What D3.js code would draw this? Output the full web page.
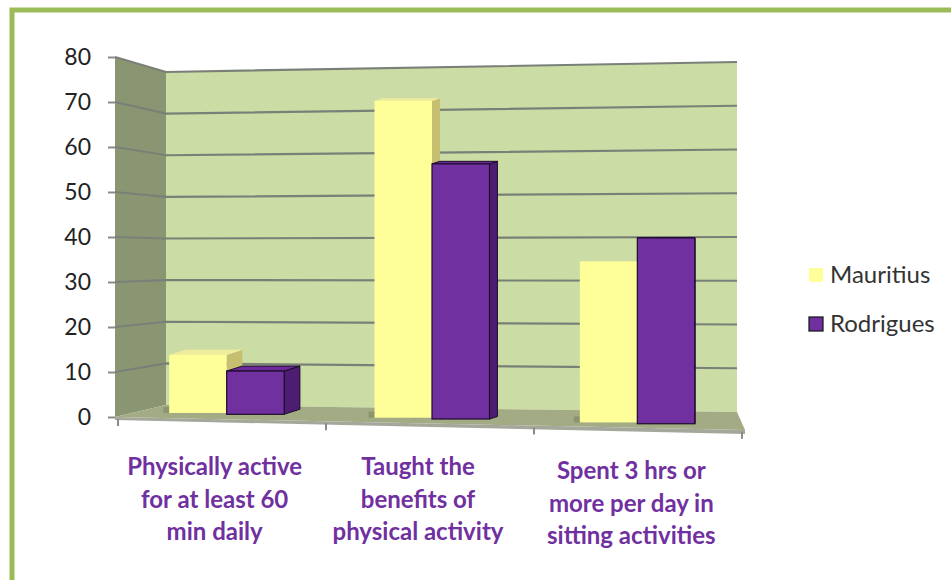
<!DOCTYPE html>
<html>
<head>
<meta charset="utf-8">
<script src="https://cdn.jsdelivr.net/npm/d3@7"></script>
<style>
  body { margin: 0; background: #fff; }
  svg { display: block; font-family: Lato, 'Open Sans', sans-serif; }
</style>
</head>
<body>
<svg width="951" height="580"></svg>
<script>
// chart data
var categories = [
  ['Physically active', 'for at least 60', 'min daily'],
  ['Taught the', 'benefits of', 'physical activity'],
  ['Spent 3 hrs or', 'more per day in', 'sitting activities']
]
var series = ['Mauritius', 'Rodrigues']
var mauritius = [12.9, 70.4, 35.8]
var rodrigues = [9.6, 56.7, 41.3]
var yTicks = [0, 10, 20, 30, 40, 50, 60, 70, 80]

var colors = {
  Mauritius: { front: '#ffff99', top: '#efed9c', side: '#c6bf70', stroke: 'none' },
  Rodrigues: { front: '#7030a0', top: '#6a2b99', side: '#4c1d72', stroke: '#1c0b2c' }
}

var svg = d3.select('svg')

// green frame
svg.append('rect')
  .attr('x', 12).attr('y', 10)
  .attr('width', 1000).attr('height', 700)
  .attr('fill', '#fff')
  .attr('stroke', '#9bbb59')
  .attr('stroke-width', 5)

// scales: front plane, back wall left edge, back wall right edge
var yFront = d3.scaleLinear().domain([0, 80]).range([417, 57])
var yBackL = d3.scaleLinear().domain([0, 80]).range([405, 72])
var yBackR = d3.scaleLinear().domain([0, 80]).range([412, 62])
var xFront = [115, 745], xBack = [166, 737]
var h = d3.scaleLinear().domain([0, 80]).range([0, 360])

var x0 = d3.scaleBand().domain(d3.range(categories.length))
  .range([124, 740]).paddingInner(0.44).paddingOuter(0.22)
var x1 = d3.scaleBand().domain(series).range([0, x0.bandwidth()])

// bar base line and depth offset shrink towards the right
var base = d3.scaleLinear().domain([200, 634]).range([413, 423])
var depth = d3.scaleLinear().domain([220, 640]).range([16, 0]).clamp(true)

var line = d3.line()

// back wall
svg.append('path')
  .attr('d', line([[xBack[0], yBackL(80)], [xBack[1], yBackR(80)], [xBack[1], yBackR(0)], [xBack[0], yBackL(0)]]) + 'Z')
  .attr('fill', '#cbdca4')

// side wall
svg.append('path')
  .attr('d', line([[xFront[0], yFront(80)], [xBack[0], yBackL(80)], [xBack[0], yBackL(0)], [xFront[0], yFront(0)]]) + 'Z')
  .attr('fill', '#8a9672')

// floor
svg.append('path')
  .attr('d', line([[xFront[0], yFront(0)], [xBack[0], yBackL(0)], [xBack[1], yBackR(0)], [xFront[1], 430]]) + 'Z')
  .attr('fill', '#a2ab84')
svg.append('path')
  .attr('d', line([[xFront[0], yFront(0)], [xFront[1], 430], [xFront[1], 434], [xFront[0], yFront(0) + 3]]) + 'Z')
  .attr('fill', '#a4a89a')

// gridlines
var grid = svg.append('g')
yTicks.filter(d => d > 0).forEach(function(v) {
  grid.append('path')
    .attr('d', line([[xFront[0], yFront(v)], [xBack[0], yBackL(v)], [xBack[1], yBackR(v)]]))
    .attr('fill', 'none')
    .attr('stroke', '#7a8078')
    .attr('stroke-width', 2.2)
})

// bars
var bars = svg.append('g')
categories.forEach(function(c, i) {
  series.forEach(function(s) {
    var v = s === 'Mauritius' ? mauritius[i] : rodrigues[i]
    var col = colors[s]
    var x = x0(i) + x1(s), w = x1.bandwidth()
    var b = base(x + w / 2), t = b - h(v)
    var dx = depth(x0(i) + x0.bandwidth() / 2), dy = -dx * 0.32
    // soft shadow on the floor
    if (s === 'Mauritius') {
      bars.append('rect')
        .attr('x', x - 6).attr('y', b - 6).attr('width', 10).attr('height', 6)
        .attr('fill', '#7d8762').attr('opacity', 0.6)
    }
    bars.append('path')
      .attr('d', line([[x + w, t], [x + w + dx, t + dy], [x + w + dx, b + dy], [x + w, b]]) + 'Z')
      .attr('fill', col.side).attr('stroke', col.stroke).attr('stroke-width', 1)
    bars.append('path')
      .attr('d', line([[x, t], [x + dx, t + dy], [x + w + dx, t + dy], [x + w, t]]) + 'Z')
      .attr('fill', col.top).attr('stroke', col.stroke).attr('stroke-width', 1)
    bars.append('rect')
      .attr('x', x).attr('y', t).attr('width', w).attr('height', b - t)
      .attr('fill', col.front).attr('stroke', col.stroke).attr('stroke-width', 1.2)
  })
})

// y axis
var yAxis = svg.append('g')
  .attr('transform', 'translate(' + xFront[0] + ',0)')
  .call(d3.axisLeft(yFront).tickValues(yTicks).tickSize(7).tickPadding(17))
yAxis.select('.domain').remove()
yAxis.selectAll('line').attr('stroke', '#8a8a8a').attr('stroke-width', 2)
yAxis.selectAll('text').attr('font-size', 23).attr('fill', '#222').attr('font-family', 'Lato')

// x ticks on the floor edge
var xEdge = d3.scaleLinear().domain([0, 3]).range([118, 742])
d3.range(4).forEach(function(k) {
  var xx = xEdge(k), yy = 417 + (xx - 118) * 0.0205 + 2
  svg.append('line')
    .attr('x1', xx).attr('x2', xx).attr('y1', yy).attr('y2', yy + 7)
    .attr('stroke', '#8a8a8a').attr('stroke-width', 2)
})

// category labels
var labelY = [467, 467, 471]
var labelShift = [-12, -14, -6]
categories.forEach(function(c, i) {
  var t = svg.append('text')
    .attr('text-anchor', 'middle')
    .attr('font-size', 24)
    .attr('font-weight', 'bold')
    .attr('fill', '#7030a0')
  c.forEach(function(l, j) {
    t.append('tspan')
      .attr('x', x0(i) + x0.bandwidth() / 2 + labelShift[i])
      .attr('y', labelY[i] + j * 32.5)
      .attr('dy', '0.35em')
      .text(l)
  })
})

// legend
var legend = svg.append('g')
series.forEach(function(s, i) {
  var g = legend.append('g').attr('transform', 'translate(809,' + (268 + i * 49) + ')')
  g.append('rect').attr('width', 14).attr('height', 14)
    .attr('fill', colors[s].front)
    .attr('stroke', s === 'Rodrigues' ? '#111' : 'none').attr('stroke-width', 1.2)
  g.append('text').attr('x', 21).attr('y', 7).attr('dy', '0.35em')
    .attr('font-size', 24).attr('fill', '#333').text(s)
})
</script>
</body>
</html>
